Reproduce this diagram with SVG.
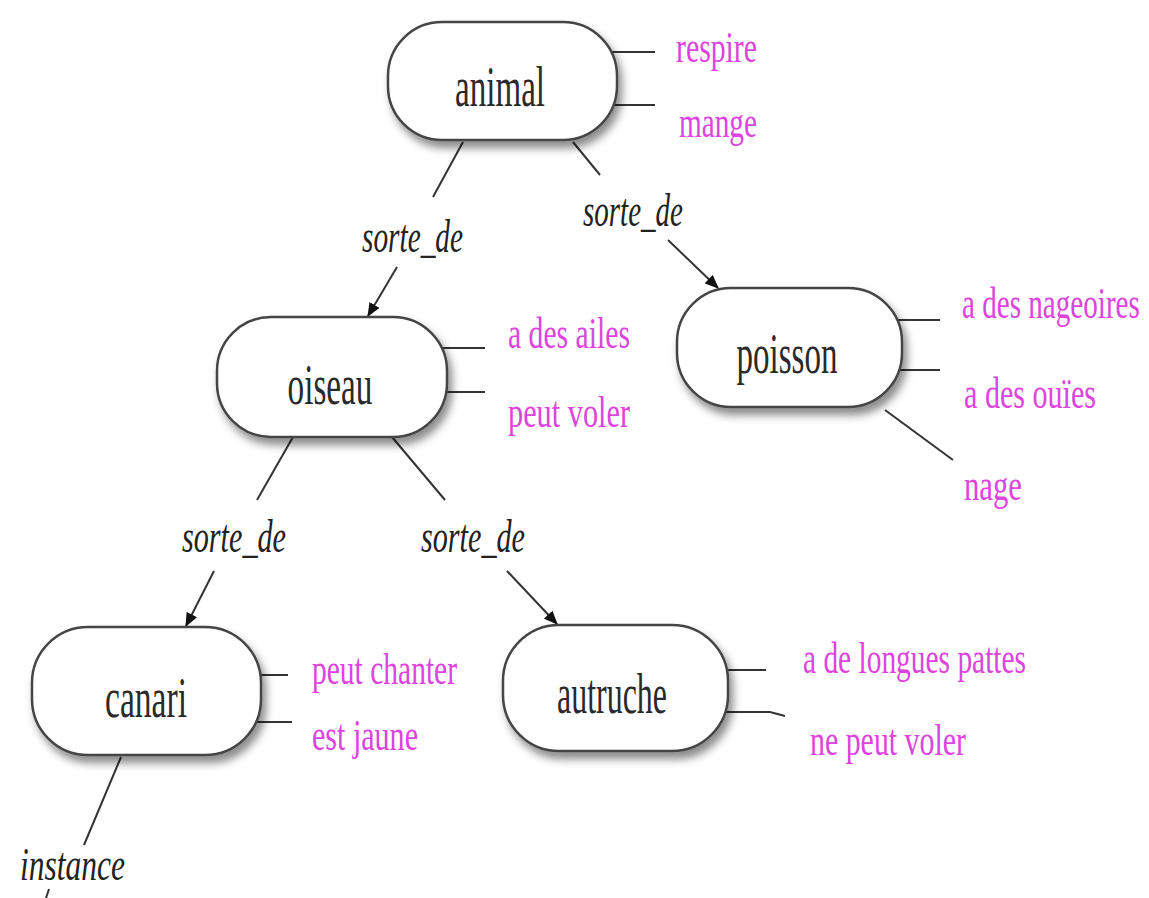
<svg xmlns="http://www.w3.org/2000/svg" width="1149" height="898" viewBox="0 0 1149 898">
<style>
.node{fill:#fff;stroke:#444;stroke-width:2.5;filter:url(#sh)}
.nt{font-family:"Liberation Serif",serif;font-size:56px;fill:#2a2a2a;text-anchor:middle}
.prop{font-family:"Liberation Serif",serif;font-size:44px;fill:#dd44dd}
.rel{font-family:"Liberation Serif",serif;font-style:italic;font-size:46px;fill:#222}
.ln{stroke:#333;stroke-width:2;fill:none}
.ar{stroke:#333;stroke-width:2;fill:none;marker-end:url(#ah)}
</style>
<defs>
<filter id="sh" x="-20%" y="-20%" width="140%" height="150%">
<feDropShadow dx="4" dy="7" stdDeviation="4" flood-color="#000" flood-opacity="0.45"/>
</filter>
<marker id="ah" viewBox="0 0 12 10" refX="11" refY="5" markerWidth="14" markerHeight="12" markerUnits="userSpaceOnUse" orient="auto">
<path d="M0,0 L12,5 L0,10 z" fill="#111"/>
</marker>
</defs>
<rect width="1149" height="898" fill="#fff"/>
<g id="connectors">
<line class="ln" x1="463" y1="142" x2="433" y2="197"/>
<line class="ar" x1="397" y1="267" x2="368" y2="316"/>
<line class="ln" x1="573" y1="142" x2="600" y2="175"/>
<line class="ar" x1="668" y1="240" x2="718" y2="288"/>
<line class="ln" x1="293" y1="437" x2="257" y2="500"/>
<line class="ar" x1="214" y1="571" x2="186" y2="626"/>
<line class="ln" x1="392" y1="437" x2="445" y2="500"/>
<line class="ar" x1="507" y1="571" x2="557" y2="624"/>
<line class="ln" x1="121" y1="757" x2="84" y2="845"/>
<line class="ln" x1="49" y1="889" x2="46" y2="898"/>
<line class="ln" x1="610" y1="52" x2="655" y2="52"/>
<line class="ln" x1="610" y1="105" x2="655" y2="105"/>
<line class="ln" x1="441" y1="348" x2="485" y2="348"/>
<line class="ln" x1="441" y1="392" x2="485" y2="392"/>
<line class="ln" x1="896" y1="320" x2="940" y2="320"/>
<line class="ln" x1="896" y1="370" x2="940" y2="370"/>
<line class="ln" x1="885" y1="410" x2="953" y2="460"/>
<line class="ln" x1="255" y1="675" x2="288" y2="675"/>
<line class="ln" x1="255" y1="722" x2="292" y2="722"/>
<line class="ln" x1="722" y1="670" x2="766" y2="670"/>
<line class="ln" x1="722" y1="712" x2="770" y2="712"/>
<line class="ln" x1="770" y1="712" x2="785" y2="716"/>
</g>
<g id="labels">
<text class="rel" x="362" y="252" textLength="101" lengthAdjust="spacingAndGlyphs">sorte_de</text>
<text class="rel" x="583" y="226" textLength="100" lengthAdjust="spacingAndGlyphs">sorte_de</text>
<text class="rel" x="182" y="552" textLength="104" lengthAdjust="spacingAndGlyphs">sorte_de</text>
<text class="rel" x="421" y="552" textLength="104" lengthAdjust="spacingAndGlyphs">sorte_de</text>
<text class="rel" x="20" y="880" textLength="105" lengthAdjust="spacingAndGlyphs">instance</text>
</g>
<g id="animal">
<rect class="node" x="388" y="22" width="229" height="118" rx="54"/>
<text class="nt" x="500" y="106" textLength="90" lengthAdjust="spacingAndGlyphs">animal</text>
<text class="prop" x="676" y="62" textLength="81" lengthAdjust="spacingAndGlyphs">respire</text>
<text class="prop" x="679" y="137" textLength="78" lengthAdjust="spacingAndGlyphs">mange</text>
</g>
<g id="oiseau">
<rect class="node" x="217" y="317" width="230" height="120" rx="54"/>
<text class="nt" x="330" y="404" textLength="85" lengthAdjust="spacingAndGlyphs">oiseau</text>
<text class="prop" x="508" y="348" textLength="122" lengthAdjust="spacingAndGlyphs">a des ailes</text>
<text class="prop" x="508" y="427" textLength="122" lengthAdjust="spacingAndGlyphs">peut voler</text>
</g>
<g id="poisson">
<rect class="node" x="677" y="288" width="225" height="119" rx="54"/>
<text class="nt" x="787" y="373" textLength="101" lengthAdjust="spacingAndGlyphs">poisson</text>
<text class="prop" transform="translate(962,318) scale(0.662,1)">a des nageoires</text>
<text class="prop" transform="translate(964,408) scale(0.684,1)">a des ouïes</text>
<text class="prop" x="964" y="500" textLength="58" lengthAdjust="spacingAndGlyphs">nage</text>
</g>
<g id="canari">
<rect class="node" x="32" y="627" width="229" height="128" rx="56"/>
<text class="nt" x="146" y="717" textLength="82" lengthAdjust="spacingAndGlyphs">canari</text>
<text class="prop" x="312" y="684" textLength="145" lengthAdjust="spacingAndGlyphs">peut chanter</text>
<text class="prop" x="312" y="750" textLength="106" lengthAdjust="spacingAndGlyphs">est jaune</text>
</g>
<g id="autruche">
<rect class="node" x="503" y="625" width="225" height="126" rx="56"/>
<text class="nt" x="612" y="713" textLength="110" lengthAdjust="spacingAndGlyphs">autruche</text>
<text class="prop" x="803" y="673" textLength="223" lengthAdjust="spacingAndGlyphs">a de longues pattes</text>
<text class="prop" x="810" y="755" textLength="156" lengthAdjust="spacingAndGlyphs">ne peut voler</text>
</g>
</svg>
